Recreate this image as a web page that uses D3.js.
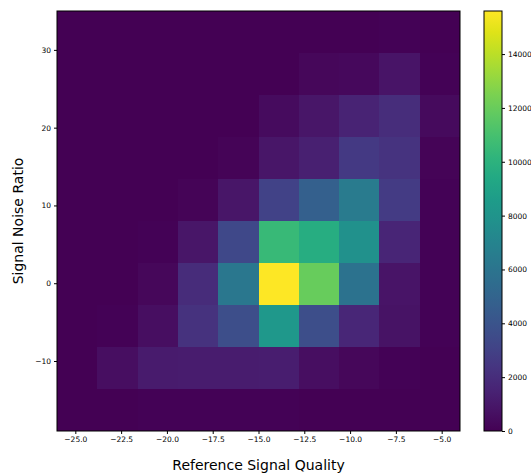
<!DOCTYPE html>
<html lang="en">
<head>
    <meta charset="utf-8">
    <title>Signal heatmap</title>
    <script type="text/javascript" src="https://d3js.org/d3.v7.min.js"></script>
    <style type="text/css">
        body {
            margin: 0;
            background: #fff;
            font-family: "DejaVu Sans", sans-serif;
        }
        .axis text {
            font-family: "DejaVu Sans", sans-serif;
            font-size: 7.5px;
            fill: #000;
        }
        .axis path {
            display: none;
        }
        .axis line {
            stroke: #000;
        }
        .label {
            font-family: "DejaVu Sans", sans-serif;
            font-size: 14px;
            fill: #000;
        }
        .cell {
            shape-rendering: crispEdges;
        }
    </style>
</head>
<body>
<div id="viz"></div>
<script type="text/javascript">
    // bin edges (data units)
    var xEdges = [-26, -23.8, -21.6, -19.4, -17.2, -15, -12.8, -10.6, -8.4, -6.2, -4];
    var yEdges = [35, 29.6, 24.2, 18.8, 13.4, 8, 2.6, -2.8, -8.2, -13.6, -19];

    // counts, one row per y bin from top to bottom, one value per x bin
    var counts = [
        [0, 0, 0, 0, 0, 0, 20, 40, 80, 60],
        [0, 0, 0, 0, 0, 0, 300, 320, 800, 120],
        [0, 0, 0, 0, 0, 480, 900, 1500, 1950, 420],
        [0, 0, 0, 0, 150, 900, 1400, 2600, 2300, 150],
        [0, 0, 0, 150, 900, 3100, 4700, 6400, 2700, 120],
        [0, 0, 120, 900, 3400, 10500, 9700, 7800, 1600, 100],
        [0, 0, 250, 1900, 6200, 15600, 12000, 5900, 800, 100],
        [0, 120, 600, 2200, 3700, 8300, 3700, 1700, 750, 80],
        [60, 600, 1100, 1200, 1200, 1250, 600, 300, 120, 60],
        [20, 60, 80, 80, 80, 80, 60, 40, 30, 20]
    ];

    var xTicks = [-25, -22.5, -20, -17.5, -15, -12.5, -10, -7.5, -5];
    var yTicks = [-10, 0, 10, 20, 30];
    var cbarTicks = [0, 2000, 4000, 6000, 8000, 10000, 12000, 14000];
    var vmax = 15600;

    var W = 531, H = 476;
    var plot = {left: 57, top: 11, right: 460, bottom: 431};
    var cbar = {left: 484, right: 502};

    var svg = d3.select("#viz").append("svg")
        .attr("width", W)
        .attr("height", H);

    var x = d3.scaleLinear().domain([-26, -4]).range([plot.left, plot.right]);
    var y = d3.scaleLinear().domain([-19, 35]).range([plot.bottom, plot.top]);
    var color = d3.scaleSequential(d3.interpolateViridis).domain([0, vmax]);

    var cells = [];
    counts.forEach(function(row, r) {
        row.forEach(function(v, c) {
            cells.push({x0: xEdges[c], x1: xEdges[c + 1], y0: yEdges[r], y1: yEdges[r + 1], v: v});
        });
    });

    svg.append("g").selectAll("rect")
        .data(cells)
        .enter()
        .append("rect")
        .attr("class", "cell")
        .attr("x", function(d) { return Math.round(x(d.x0)); })
        .attr("y", function(d) { return Math.round(y(d.y0)); })
        .attr("width", function(d) { return Math.round(x(d.x1)) - Math.round(x(d.x0)); })
        .attr("height", function(d) { return Math.round(y(d.y1)) - Math.round(y(d.y0)); })
        .attr("fill", function(d) { return color(d.v); });

    svg.append("rect")
        .attr("x", plot.left)
        .attr("y", plot.top)
        .attr("width", plot.right - plot.left)
        .attr("height", plot.bottom - plot.top)
        .attr("fill", "none")
        .attr("stroke", "#000")
        .attr("stroke-width", 1);

    svg.append("g")
        .attr("class", "axis")
        .attr("transform", "translate(0," + plot.bottom + ")")
        .call(d3.axisBottom(x).tickValues(xTicks).tickFormat(d3.format(".1f")).tickSize(3).tickPadding(3));

    svg.append("g")
        .attr("class", "axis")
        .attr("transform", "translate(" + plot.left + ",0)")
        .call(d3.axisLeft(y).tickValues(yTicks).tickSize(3).tickPadding(3));

    svg.append("text")
        .attr("class", "label")
        .attr("x", (plot.left + plot.right) / 2)
        .attr("y", 470)
        .attr("text-anchor", "middle")
        .text("Reference Signal Quality");

    svg.append("text")
        .attr("class", "label")
        .attr("transform", "translate(23," + (plot.top + plot.bottom) / 2 + ") rotate(-90)")
        .attr("text-anchor", "middle")
        .text("Signal Noise Ratio");

    // colorbar
    var cy = d3.scaleLinear().domain([0, vmax]).range([plot.bottom, plot.top]);
    var grad = svg.append("defs").append("linearGradient")
        .attr("id", "cbar")
        .attr("x1", 0).attr("y1", 1).attr("x2", 0).attr("y2", 0);
    grad.selectAll("stop")
        .data(d3.range(0, 1.0001, 0.05))
        .enter()
        .append("stop")
        .attr("offset", function(d) { return d; })
        .attr("stop-color", function(d) { return d3.interpolateViridis(d); });

    svg.append("rect")
        .attr("x", cbar.left)
        .attr("y", cy(vmax))
        .attr("width", cbar.right - cbar.left)
        .attr("height", cy(0) - cy(vmax))
        .attr("fill", "url(#cbar)")
        .attr("stroke", "#000")
        .attr("stroke-width", 1);

    svg.append("g")
        .attr("class", "axis")
        .attr("transform", "translate(" + cbar.right + ",0)")
        .call(d3.axisRight(cy).tickValues(cbarTicks).tickFormat(d3.format("d")).tickSize(3).tickPadding(3));
</script>
</body>
</html>
